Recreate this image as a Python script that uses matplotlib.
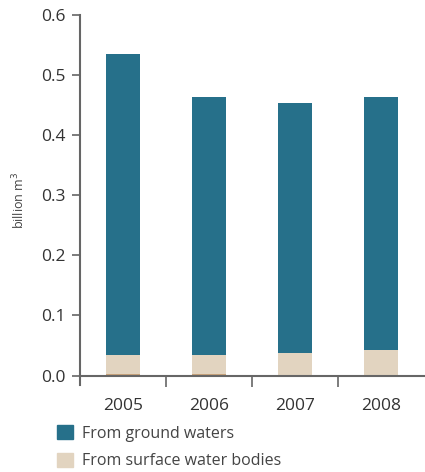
import matplotlib
matplotlib.use("Agg")
import matplotlib.pyplot as plt
from matplotlib.patches import Patch
import numpy as np

plt.rcParams['font.family'] = ['Open Sans', 'DejaVu Sans']

# water abstraction, billion m3
years = ['2005', '2006', '2007', '2008']
surface = [0.033, 0.033, 0.037, 0.042]
other = [0.002, 0.002, 0.0, 0.0]
ground = [0.500, 0.428, 0.416, 0.421]

c_ground = '#26708a'
c_surface = '#e2d4c0'
c_other = '#c8a27a'
grey = '#666666'

fig = plt.figure(figsize=(4.25, 4.72), dpi=100)
ax = fig.add_axes([0.188, 0.184, 0.81, 0.784])

x = np.arange(len(years))
w = 0.4
ax.bar(x, other, w, color=c_other)
ax.bar(x, surface, w, bottom=other, color=c_surface)
bottom2 = np.array(other) + np.array(surface)
ax.bar(x, ground, w, bottom=bottom2, color=c_ground)

ax.set_xlim(-0.5, 3.5)
ax.set_ylim(-0.016, 0.6)
ax.set_yticks([0, 0.1, 0.2, 0.3, 0.4, 0.5, 0.6])
ax.set_yticklabels(['0.0', '0.1', '0.2', '0.3', '0.4', '0.5', '0.6'])
ax.set_xticks(x)
ax.set_xticklabels(years)
ax.set_xticks([0.5, 1.5, 2.5], minor=True)
ax.tick_params(axis='x', which='major', length=0, pad=16, labelsize=12.5, labelcolor='#333333')
ax.tick_params(axis='x', which='minor', length=8, width=1.2, color=grey, direction='out')
ax.tick_params(axis='y', length=6, width=1.2, color=grey, labelsize=12.5, labelcolor='#333333', pad=4)

ax.spines['top'].set_visible(False)
ax.spines['right'].set_visible(False)
ax.spines['bottom'].set_position(('data', 0))
for s in ['left', 'bottom']:
    ax.spines[s].set_color(grey)
    ax.spines[s].set_linewidth(1.5)

ax.set_ylabel('billion m$^3$', fontsize=9, color='#444444', labelpad=10)

handles = [Patch(color=c_ground, label='From ground waters'),
           Patch(color=c_surface, label='From surface water bodies')]
fig.legend(handles=handles, loc='upper left', bbox_to_anchor=(0.1, 0.13),
           frameon=False, fontsize=11.5, handlelength=1.0, handleheight=1.0,
           labelspacing=0.7, handletextpad=0.6, labelcolor='#444444')

fig.savefig('out.png', dpi=100)
